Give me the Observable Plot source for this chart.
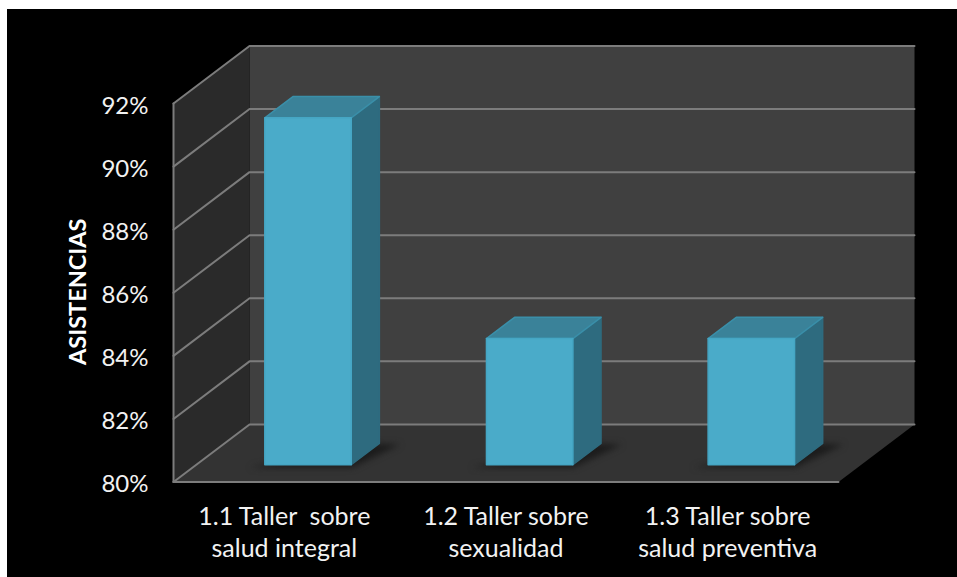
<!DOCTYPE html>
<html>
<head>
<meta charset="utf-8">
<script src="https://cdn.jsdelivr.net/npm/d3@7"></script>
<script src="https://cdn.jsdelivr.net/npm/@observablehq/plot@0.6"></script>
<style>
  html, body { margin: 0; padding: 0; background: #fff; }
  #chart { position: absolute; left: 7px; top: 9px; }
  #chart svg { display: block; background: #000; }
  #chart svg text { white-space: pre; }
</style>
</head>
<body>
<div id="chart"></div>
<script>
// Attendance per workshop
const categories = ["1.1 Taller  sobre\nsalud integral", "1.2 Taller sobre\nsexualidad", "1.3 Taller sobre\nsalud preventiva"];
const values = [91, 84, 84];
const yTicks = [80, 82, 84, 86, 88, 90, 92];

// Oblique projection, in data units: how far one full step into the chart moves x and y
const depthX = 0.343;
const depthY = 1.825;
const yMin = yTicks[0];
const yMax = yTicks[yTicks.length - 1];
const nCat = categories.length;

// Bar placement inside each category slot
const barWidth = 0.39;
const barFront = 0.3;
const barBack = 0.67;

const project = (u, v, d) => ({x: u + d * depthX, y: v + d * depthY});
const bars = values.map((v, i) => ({v, x0: i + 0.5 - barWidth / 2 + 0.004, x1: i + 0.5 + barWidth / 2 + 0.004}));

const poly = (points) => points.map(([u, v, d]) => project(u, v, d));

const wallBack = poly([[0, yMin, 1], [nCat, yMin, 1], [nCat, yMax, 1], [0, yMax, 1]]);
const wallSide = poly([[0, yMin, 0], [0, yMin, 1], [0, yMax, 1], [0, yMax, 0]]);
const floor = poly([[0, yMin, 0], [nCat, yMin, 0], [nCat, yMin, 1], [0, yMin, 1]]);

const grid = yTicks.flatMap((t) =>
  poly([[0, t, 0], [0, t, 1], [nCat, t, 1]]).map((p) => ({...p, t}))
);
const frontEdges = [
  ...poly([[0, yMin, 0], [nCat, yMin, 0]]).map((p) => ({...p, t: "bottom"})),
  ...poly([[0, yMin, 0], [0, yMax, 0]]).map((p) => ({...p, t: "left"}))
];

const tag = (faceOf) => bars.flatMap((b, i) => faceOf(b).map((p) => ({...p, i})));
// Soft contact shadow on the floor, behind and to the right of each bar
const shadow = tag((b) => poly([
  [b.x0 - 0.05, yMin, barFront - 0.05], [b.x1 + 0.02, yMin, barFront - 0.05],
  [b.x1 + 0.1, yMin, barBack - 0.02], [b.x1 - 0.05, yMin, barBack], [b.x0 + 0.05, yMin, barFront + 0.05]
]));
const barSide = tag((b) => poly([[b.x1, yMin, barFront], [b.x1, yMin, barBack], [b.x1, b.v, barBack], [b.x1, b.v, barFront]]));
const barTop = tag((b) => poly([[b.x0, b.v, barFront], [b.x1, b.v, barFront], [b.x1, b.v, barBack], [b.x0, b.v, barBack]]));
const barFace = tag((b) => poly([[b.x0, yMin, barFront], [b.x1, yMin, barFront], [b.x1, b.v, barFront], [b.x0, b.v, barFront]]));

const face = (data, fill, extra = {}) =>
  Plot.line(data, {x: "x", y: "y", z: "i", fill, stroke: "none", curve: "linear-closed", ...extra});

const font = "Lato, 'Noto Sans', sans-serif";

const chart = Plot.plot({
  width: 950,
  height: 568,
  marginLeft: 166,
  marginRight: 43,
  marginTop: 36.5,
  marginBottom: 95.5,
  style: {background: "#000", color: "#f2f2f2", fontFamily: font},
  x: {domain: [0, nCat + depthX], axis: null},
  y: {domain: [yMin, yMax + depthY], axis: null},
  marks: [
    face(wallBack, "#404040"),
    face(wallSide, "#2a2a2a"),
    face(floor, "#333333"),
    Plot.line(grid, {x: "x", y: "y", z: "t", stroke: "#7c7c7c", strokeWidth: 2}),
    Plot.line(frontEdges, {x: "x", y: "y", z: "t", stroke: "#7c7c7c", strokeWidth: 2}),
    face(shadow, "#1c1c1c", {imageFilter: "blur(3px)"}),
    face(barSide, "#2e6b7f", {stroke: "#2e6b7f", strokeWidth: 1.5, strokeLinejoin: "round"}),
    face(barTop, "#3a8299", {stroke: "#3a8fa9", strokeWidth: 1.5, strokeLinejoin: "round"}),
    face(barFace, "#4aabc9", {stroke: "#45a6c4", strokeWidth: 1.5, strokeLinejoin: "round"}),
    Plot.axisY({
      ticks: yTicks,
      tickFormat: (d) => `${d}%`,
      tickSize: 0,
      tickPadding: 25,
      label: null,
      fontSize: 24,
      dy: 2.5,
      fill: "#f2f2f2"
    }),
    Plot.text(categories, {
      x: (d, i) => i + 0.5,
      y: yMin,
      text: (d) => d,
      lineAnchor: "top",
      dy: 20,
      lineHeight: 1.28,
      fontSize: 25,
      fill: "#f2f2f2"
    }),
    Plot.text(["ASISTENCIAS"], {
      frameAnchor: "left",
      rotate: -90,
      dx: -95,
      dy: 101,
      fontSize: 23.5,
      fontWeight: "bold",
      fill: "#fff"
    })
  ]
});
document.getElementById("chart").append(chart);
</script>
</body>
</html>
